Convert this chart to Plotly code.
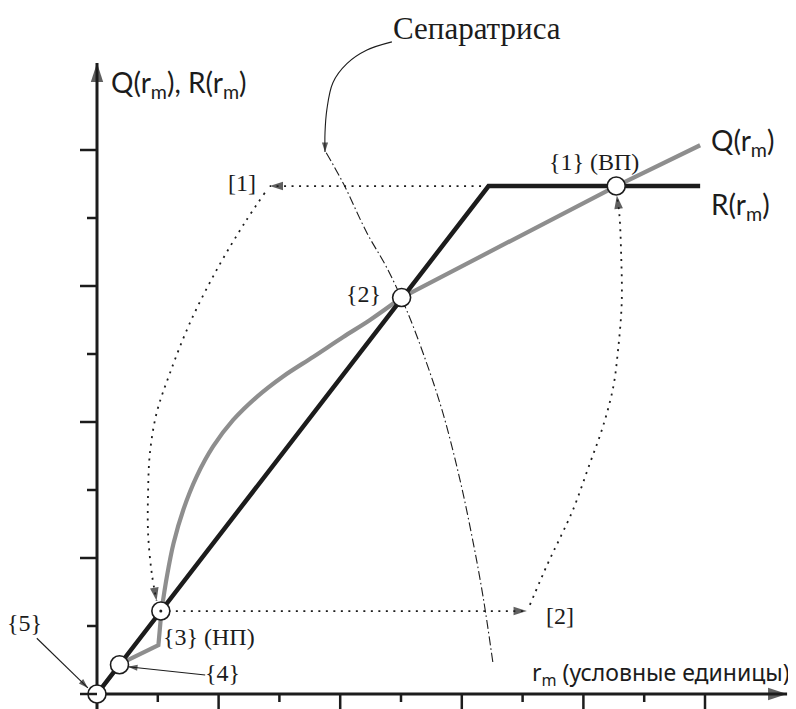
import plotly.graph_objects as go

# ---------------- data (chart units: 1 unit = one tick step) ----------------
x_ticks = [1, 2, 3, 4, 5, 6, 7, 8, 9, 10]
y_ticks = [0, 1, 2, 3, 4, 5, 6, 7, 8]

# Q(r_m) - gray curve: lower broken part ...
q_low_x = [0.0, 0.37, 1.01, 1.06]
q_low_y = [0.0, 0.44, 0.72, 1.22]
# ... smooth middle part ...
q_mid_x = [1.06, 1.15, 1.26, 1.42, 1.64, 1.91, 2.24, 2.63, 3.06, 3.56, 4.05, 4.49, 5.01]
q_mid_y = [1.22, 1.73, 2.22, 2.71, 3.20, 3.64, 4.03, 4.37, 4.67, 4.96, 5.25, 5.50, 5.83]
# ... and straight upper part
q_up_x = [5.01, 8.54, 9.92]
q_up_y = [5.83, 7.47, 8.07]

# R(r_m) - black broken line
r_x = [0.0, 6.44, 9.92]
r_y = [0.0, 7.47, 7.47]

# equilibrium points {1}..{5}
pt_labels = ["{1}", "{2}", "{3}", "{4}", "{5}"]
pt_x = [8.54, 5.01, 1.05, 0.37, 0.0]
pt_y = [7.47, 5.83, 1.22, 0.43, 0.0]

# dotted transition paths
dotA_x = [6.44, 2.84]
dotA_y = [7.47, 7.47]
dotB_x = [2.76, 2.43, 1.97, 1.53, 1.20, 0.98, 0.87, 0.84, 0.84, 0.90, 0.98]
dotB_y = [7.37, 6.93, 6.24, 5.46, 4.72, 4.13, 3.54, 2.96, 2.37, 1.78, 1.37]
dotC_x = [1.05, 7.07]
dotC_y = [1.22, 1.22]
dotD_x = [7.12, 7.42, 7.64, 7.83, 8.11, 8.32, 8.49, 8.57, 8.63, 8.62, 8.59, 8.55]
dotD_y = [1.31, 1.93, 2.34, 2.71, 3.40, 3.93, 4.51, 5.06, 5.75, 6.49, 7.07, 7.33]

# separatrix (dash-dot)
sep_x = [3.77, 4.05, 4.44, 4.76, 5.09, 5.42, 5.69, 5.97, 6.18, 6.35, 6.51]
sep_y = [7.96, 7.51, 6.78, 6.28, 5.65, 4.87, 4.13, 3.15, 2.26, 1.43, 0.47]

# pointer from the "Сепаратриса" caption
ptr_x = [4.85, 4.44, 4.11, 3.88, 3.78, 3.75, 3.75]
ptr_y = [9.59, 9.47, 9.27, 8.99, 8.59, 8.25, 7.97]

# pointers to {4} and {5}
p4_x = [1.78, 0.51]
p4_y = [0.28, 0.40]
p5_x = [-0.99, -0.15]
p5_y = [0.82, 0.09]

# axes extents
x_axis_end = 11.35
y_axis_end = 9.28
y_axis_start = -0.25

BLACK = "#1c1c1c"
GRAY = "#8e8e8e"
SERIF = "Liberation Serif"
SANS = "Lato"
SANS_CYR = "Noto Sans"
DOT = "2px,5.5px"
DASHDOT = "9px,3px,1.6px,3px"

fig = go.Figure()


def add_line(xs, ys, color, width, dash="solid", spline=False, arrow=0):
    fig.add_trace(go.Scatter(
        x=xs, y=ys, mode="lines",
        line=dict(color=color, width=width, dash=dash,
                  shape="spline" if spline else "linear", smoothing=1.0),
        hoverinfo="skip", cliponaxis=False))
    if arrow:
        fig.add_trace(go.Scatter(
            x=xs[-2:], y=ys[-2:], mode="markers",
            marker=dict(symbol="arrow", angleref="previous", size=[0, arrow],
                        color=color, line=dict(width=0)),
            hoverinfo="skip", cliponaxis=False))


# axes
add_line([0, x_axis_end], [0, 0], BLACK, 3, arrow=20)
add_line([0, 0], [y_axis_start, y_axis_end], BLACK, 3, arrow=20)

# ticks
for k in x_ticks:
    fig.add_shape(type="line", xref="x", yref="y", x0=k, x1=k,
                  ysizemode="pixel", yanchor=0, y0=0, y1=-(16 if k % 2 == 0 else 8),
                  line=dict(color=BLACK, width=2.5))
for k in y_ticks:
    fig.add_shape(type="line", xref="x", yref="y", y0=k, y1=k,
                  xsizemode="pixel", xanchor=0, x0=0, x1=-(17 if k % 2 == 0 else 10),
                  line=dict(color=BLACK, width=2.5))

# dotted transitions and separatrix
add_line(dotA_x, dotA_y, BLACK, 1.8, dash=DOT, arrow=14)
add_line(dotB_x, dotB_y, BLACK, 1.8, dash=DOT, spline=True, arrow=14)
add_line(dotC_x, dotC_y, BLACK, 1.8, dash=DOT, arrow=14)
add_line(dotD_x, dotD_y, BLACK, 1.8, dash=DOT, spline=True, arrow=14)
add_line(sep_x, sep_y, BLACK, 1.1, dash=DASHDOT, spline=True)
add_line(ptr_x, ptr_y, BLACK, 1.1, spline=True, arrow=10)
add_line(p4_x, p4_y, BLACK, 1.1, arrow=10)
add_line(p5_x, p5_y, BLACK, 1.1, arrow=10)

# Q curve
add_line(q_low_x, q_low_y, GRAY, 4.2)
add_line(q_mid_x, q_mid_y, GRAY, 4.2, spline=True)
add_line(q_up_x, q_up_y, GRAY, 4.2)
# R line
add_line(r_x, r_y, BLACK, 4.5)

# points
fig.add_trace(go.Scatter(
    x=pt_x, y=pt_y, mode="markers",
    marker=dict(symbol="circle", size=18, color="white", line=dict(color=BLACK, width=1.6)),
    hoverinfo="skip", cliponaxis=False))
fig.add_trace(go.Scatter(
    x=[pt_x[2]], y=[pt_y[2]], mode="markers",
    marker=dict(symbol="circle", size=3, color=BLACK),
    hoverinfo="skip", cliponaxis=False))


# texts
def txt(x, y, s, font, size, xanchor="center", yanchor="middle"):
    fig.add_annotation(x=x, y=y, xref="x", yref="y", text=s, showarrow=False,
                       xanchor=xanchor, yanchor=yanchor, borderpad=0,
                       font=dict(family=font, size=size, color=BLACK))


txt(0.21, 8.97, "Q(r<sub>m</sub>), R(r<sub>m</sub>)", SANS, 28, xanchor="left")
txt(10.08, 8.12, "Q(r<sub>m</sub>)", SANS, 28, xanchor="left")
txt(10.08, 7.18, "R(r<sub>m</sub>)", SANS, 28, xanchor="left")
txt(11.42, 0.30, "r<sub>m</sub> (условные единицы)", SANS_CYR, 23, xanchor="right")
txt(6.25, 9.79, "Сепаратриса", SERIF, 31)
txt(8.18, 7.82, pt_labels[0] + " (ВП)", SERIF, 24)
txt(4.39, 5.88, pt_labels[1], SERIF, 24)
txt(1.85, 0.84, pt_labels[2] + " (НП)", SERIF, 24)
txt(2.06, 0.31, pt_labels[3], SERIF, 24)
txt(-1.20, 1.04, pt_labels[4], SERIF, 24)
txt(2.385, 7.51, "[1]", SERIF, 24)
txt(7.62, 1.15, "[2]", SERIF, 24)

# the page adds an 8 px body margin, so the figure is 8 px smaller on each side
fig.update_layout(
    width=788, height=701,
    margin=dict(l=0, r=0, t=0, b=0),
    paper_bgcolor="white", plot_bgcolor="white",
    showlegend=False,
    xaxis=dict(range=[(8 - 97) / 60.8, (796 - 97) / 60.8], visible=False, fixedrange=True),
    yaxis=dict(range=[(694 - 709) / 68, (694 - 8) / 68], visible=False, fixedrange=True),
)

fig.write_html("out.html")
